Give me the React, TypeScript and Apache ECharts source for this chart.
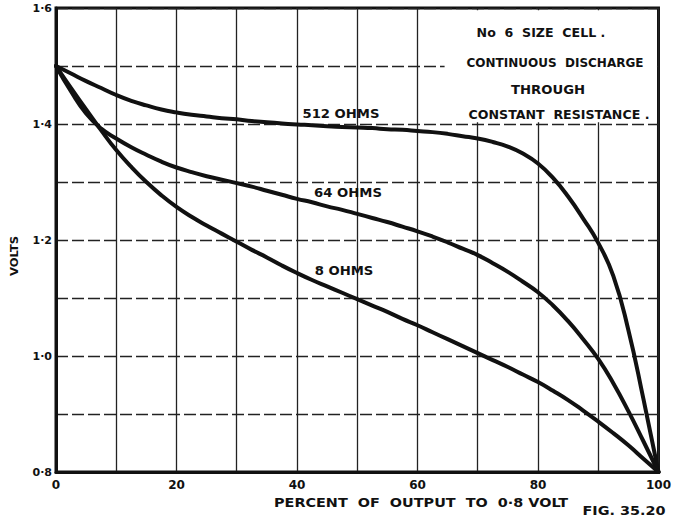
import React, { useEffect, useRef } from "react";
import * as echarts from "echarts";

const percent = [0, 2.5, 5, 7.5, 10, 12.5, 15, 17.5, 20, 22.5, 25, 27.5, 30, 32.5, 35, 37.5, 40, 42.5, 45, 47.5, 50, 52.5, 55, 57.5, 60, 62.5, 65, 67.5, 70, 72.5, 75, 77.5, 80, 82.5, 85, 87.5, 90, 92.5, 95, 97.5, 100];

const volts512 = [1.5, 1.487, 1.474, 1.462, 1.45, 1.44, 1.432, 1.425, 1.42, 1.416, 1.413, 1.41, 1.408, 1.405, 1.403, 1.401, 1.399, 1.398, 1.396, 1.395, 1.394, 1.393, 1.391, 1.39, 1.388, 1.386, 1.383, 1.379, 1.375, 1.369, 1.361, 1.349, 1.332, 1.307, 1.275, 1.237, 1.195, 1.138, 1.045, 0.926, 0.8];

const volts64 = [1.5, 1.456, 1.418, 1.392, 1.375, 1.36, 1.347, 1.335, 1.325, 1.317, 1.31, 1.304, 1.298, 1.292, 1.285, 1.278, 1.271, 1.265, 1.258, 1.252, 1.245, 1.238, 1.231, 1.223, 1.215, 1.206, 1.196, 1.185, 1.174, 1.16, 1.145, 1.128, 1.11, 1.087, 1.06, 1.029, 0.995, 0.953, 0.905, 0.853, 0.8];

const volts8 = [1.5, 1.462, 1.425, 1.389, 1.355, 1.326, 1.3, 1.277, 1.257, 1.24, 1.225, 1.211, 1.197, 1.183, 1.17, 1.156, 1.143, 1.131, 1.12, 1.109, 1.098, 1.087, 1.076, 1.064, 1.053, 1.041, 1.029, 1.017, 1.005, 0.993, 0.981, 0.968, 0.955, 0.94, 0.924, 0.906, 0.887, 0.867, 0.846, 0.823, 0.8];

const seriesNames = ["512 OHMS", "64 OHMS", "8 OHMS"];
const xTickLabels = ["0", "20", "40", "60", "80", "100"];
const yTickLabels = ["0·8", "1·0", "1·2", "1·4", "1·6"];
const noteLines = ["No  6  SIZE  CELL .", "CONTINUOUS  DISCHARGE", "THROUGH", "CONSTANT  RESISTANCE ."];
const xTitle = "PERCENT  OF  OUTPUT  TO  0·8 VOLT";
const yTitle = "VOLTS";
const figLabel = "FIG. 35.20";
// region of the plot kept clear for the note (data units)
const noteBoxX = [64.5, 99.75];
const noteBoxY = [1.403, 1.596];

const FONT = "'DejaVu Sans', sans-serif";

function pairs(xs: number[], ys: number[]) {
  return xs.map((x, i) => [x, ys[i]]);
}

function label(text: string, x: number, y: number, size: number, sx: number, z: number, rotation = 0) {
  return {
    type: "text",
    x,
    y,
    z,
    scaleX: sx,
    rotation,
    style: {
      text,
      fill: "#111",
      font: `bold ${size}px ${FONT}`,
      textAlign: "center",
      textVerticalAlign: "middle",
    },
  };
}

export default function App() {
  const ref = useRef<HTMLDivElement>(null);
  useEffect(() => {
    if (!ref.current) return;
    const chart = echarts.init(ref.current, null, { renderer: "svg" });
    const lineSeries: any[] = [volts512, volts64, volts8].map((ys, i) => ({
      type: "line",
      name: seriesNames[i],
      data: pairs(percent, ys),
      smooth: 0.5,
      showSymbol: false,
      symbol: "none",
      lineStyle: { color: "#111", width: 4, join: "round", cap: "round" },
      z: 3,
    }));
    lineSeries.push({
      type: "line",
      name: "note",
      data: [],
      silent: true,
      z: 2,
      markArea: {
        silent: true,
        itemStyle: { color: "#fff", opacity: 1 },
        data: [[{ coord: [noteBoxX[0], noteBoxY[0]] }, { coord: [noteBoxX[1], noteBoxY[1]] }]],
      },
    });
    const labelPos = [
      [341, 114],
      [348, 193],
      [344, 271],
    ];
    const notePos = [
      [541, 33],
      [555, 63],
      [548, 90],
      [559, 115],
    ];
    const noteScale = [1.05, 1.0, 1.1, 1.05];
    chart.setOption({
      animation: false,
      backgroundColor: "#fff",
      grid: {
        left: 56,
        right: 12,
        top: 8,
        bottom: 51,
        show: true,
        borderColor: "#111",
        borderWidth: 3,
      },
      xAxis: {
        type: "value",
        min: 0,
        max: 100,
        interval: 10,
        axisLine: { show: true, lineStyle: { color: "#111", width: 3 } },
        axisTick: { show: false },
        splitLine: { show: true, lineStyle: { color: "#222", width: 1.3 } },
        axisLabel: {
          margin: 7,
          color: "#111",
          fontFamily: FONT,
          fontWeight: "bold",
          fontSize: 12,
          formatter: (v: number) => {
            const idx = Math.round(v) / 20;
            return Number.isInteger(idx) ? xTickLabels[idx] : "";
          },
        },
      },
      yAxis: {
        type: "value",
        min: 0.8,
        max: 1.6,
        interval: 0.1,
        axisLine: { show: true, lineStyle: { color: "#111", width: 3 } },
        axisTick: { show: false },
        splitLine: { show: true, lineStyle: { color: "#222", width: 1.3, type: [12, 4] } },
        axisLabel: {
          margin: 4,
          color: "#111",
          fontFamily: FONT,
          fontWeight: "bold",
          fontSize: 11,
          formatter: (v: number) => {
            const t = Math.round(v * 10) - 8;
            return t % 2 === 0 ? yTickLabels[t / 2] : "";
          },
        },
      },
      series: lineSeries,
      graphic: [
        ...noteLines.map((t, i) => label(t, notePos[i][0], notePos[i][1], 12, noteScale[i], 101)),
        ...seriesNames.map((t, i) => label(t, labelPos[i][0], labelPos[i][1], 12, 1.1, 101)),
        label(xTitle, 421, 503, 12, 1.2, 101),
        label(figLabel, 624, 511, 12, 1.2, 101),
        label(yTitle, 15, 256, 11, 1.05, 101, Math.PI / 2),
      ],
    });
    return () => chart.dispose();
  }, []);
  return <div ref={ref} style={{ position: "absolute", left: 0, top: 0, width: 674, height: 523 }} />;
}
